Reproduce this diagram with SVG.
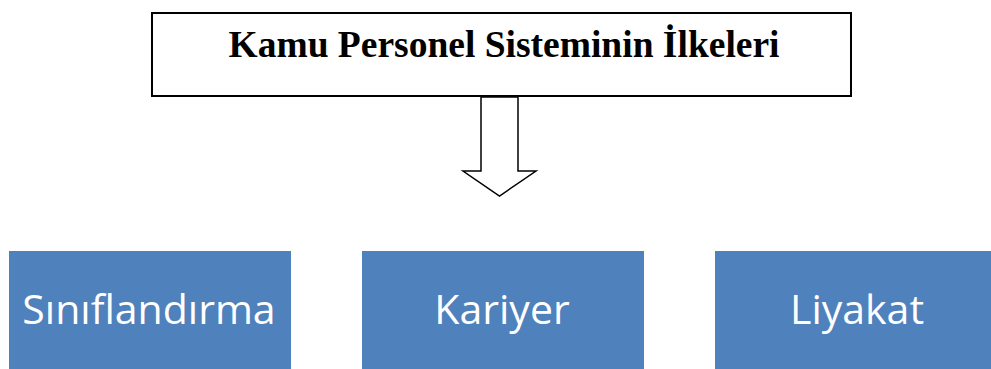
<svg xmlns="http://www.w3.org/2000/svg" width="991" height="369" viewBox="0 0 991 369">
<style>
.title{font-family:"Liberation Serif","Times New Roman",serif;font-weight:bold;font-size:37.5px;fill:#000}
.box{fill:#4F81BD}
.lbl{font-family:"Open Sans","Noto Sans",sans-serif;font-size:41px;fill:#fff}
</style>
<rect width="991" height="369" fill="#fff"/>
<g id="title-node">
<rect x="152" y="13" width="699" height="83" fill="#fff" stroke="#000" stroke-width="2"/>
<text class="title" x="504" y="57" text-anchor="middle">Kamu Personel Sisteminin İlkeleri</text>
</g>
<g id="connectors">
<polygon points="481,97 518,97 518,171 536,171 499.5,196 463,171 481,171" fill="#fff" stroke="#000" stroke-width="1.5"/>
</g>
<g id="node-siniflandirma">
<rect class="box" x="9" y="251" width="282" height="118"/>
<text class="lbl" x="149" y="324" text-anchor="middle">Sınıflandırma</text>
</g>
<g id="node-kariyer">
<rect class="box" x="362" y="251" width="282" height="118"/>
<text class="lbl" x="502" y="324" text-anchor="middle">Kariyer</text>
</g>
<g id="node-liyakat">
<rect class="box" x="715" y="251" width="276" height="118"/>
<text class="lbl" x="857" y="324" text-anchor="middle">Liyakat</text>
</g>
</svg>
